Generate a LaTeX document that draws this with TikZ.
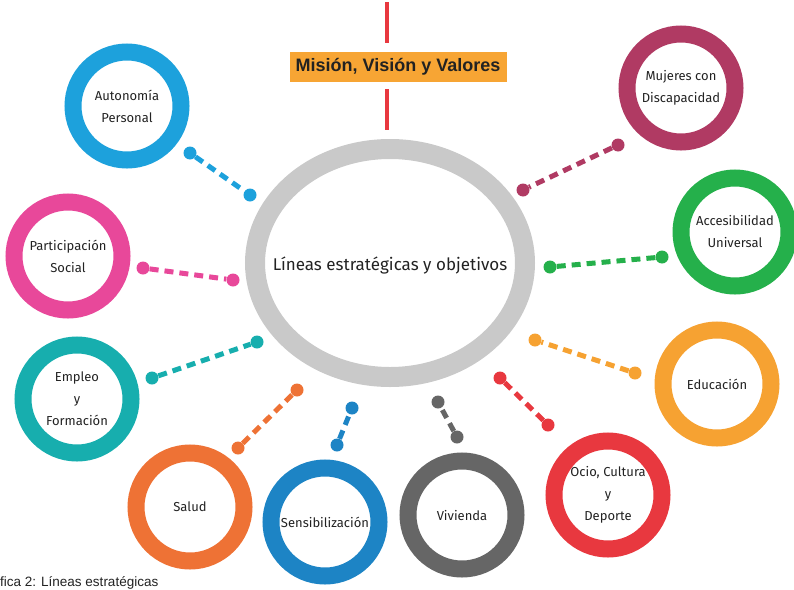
\documentclass[tikz,border=0pt]{standalone}
\usepackage{fontspec}
\setmainfont{Liberation Sans}
\newfontfamily\handfont{Fira Sans}
\usepackage{xcolor}
\usetikzlibrary{shapes.geometric}
\definecolor{cautonomia}{HTML}{1DA1DC}
\definecolor{cmujeres}{HTML}{B03A63}
\definecolor{cparticipacion}{HTML}{E8489A}
\definecolor{caccesibilidad}{HTML}{25B04B}
\definecolor{cempleo}{HTML}{17AEAE}
\definecolor{ceducacion}{HTML}{F6A232}
\definecolor{cocio}{HTML}{E8383F}
\definecolor{csalud}{HTML}{EE7235}
\definecolor{csensib}{HTML}{1D84C5}
\definecolor{cvivienda}{HTML}{666666}
\definecolor{ringgray}{HTML}{C9C9C9}
\definecolor{titleorange}{HTML}{F7A534}
\definecolor{textdark}{HTML}{222222}
\tikzstyle{ring}=[
  draw,circle,line width=17pt,minimum size=108pt,inner sep=0pt,align=center,
  text=textdark,font=\handfont\fontsize{13}{22}\selectfont
]
\tikzstyle{bigring}=[
  draw=ringgray,ellipse,line width=20pt,minimum width=270pt,minimum height=228pt,
  inner sep=0pt
]
\tikzstyle{bigtext}=[
  text=textdark,font=\handfont\fontsize{17}{20}\selectfont
]
\tikzstyle{dotnode}=[
  circle,inner sep=0pt,minimum size=13pt
]
\tikzstyle{link}=[
  line width=5pt,dash pattern=on 9pt off 6pt
]
\tikzstyle{redline}=[
  draw=cocio,line width=4pt
]

\begin{document}
\begin{tikzpicture}[x=1pt,y=-1pt]
    \useasboundingbox (0,0) rectangle (794,589);
    % centre
    \node (lineas) at (390,263) [bigring] {};
    \node (lineas-txt) at (390,265) [bigtext] {Líneas estratégicas y objetivos};
    \node (mvv) at (398,67) [fill=titleorange,minimum width=217pt,minimum height=30pt,
      text=textdark,font=\bfseries\fontsize{18}{20}\selectfont] {Misión, Visión y Valores};
    \coordinate (mvv-top) at (387,2);
    \coordinate (mvv-bot) at (387,130);
    \draw [redline,shorten >=9pt] (mvv-top) -- (mvv-top |- mvv.north);
    \draw [redline,shorten <=7pt] (mvv-top |- mvv.south) -- (mvv-bot);
    % lineas
    \node (autonomia) at (127,106) [ring,draw=cautonomia] {Autonomía\\Personal};
    \node (mujeres) at (681,88) [ring,draw=cmujeres] {Mujeres con\\Discapacidad};
    \node (participacion) at (68,256) [ring,draw=cparticipacion] {Participación\\Social};
    \node (accesibilidad) at (735,232) [ring,draw=caccesibilidad] {Accesibilidad\\Universal};
    \node (empleo) at (77,399) [ring,draw=cempleo] {Empleo\\y\\Formación};
    \node (educacion) at (717,384) [ring,draw=ceducacion] {Educación};
    \node (ocio) at (608,495) [ring,draw=cocio] {Ocio, Cultura\\y\\Deporte};
    \node (salud) at (190,507) [ring,draw=csalud] {Salud};
    \node (sensib) at (325,522) [ring,draw=csensib] {Sensibilización};
    \node (vivienda) at (462,515) [ring,draw=cvivienda] {Vivienda};
    % enlaces
    \node (autonomia-a) at (190,153) [dotnode,fill=cautonomia] {};
    \node (autonomia-b) at (250,195) [dotnode,fill=cautonomia] {};
    \draw [link,cautonomia] (autonomia-a) -- (autonomia-b);
    \node (mujeres-a) at (618,145) [dotnode,fill=cmujeres] {};
    \node (mujeres-b) at (523,190) [dotnode,fill=cmujeres] {};
    \draw [link,cmujeres] (mujeres-a) -- (mujeres-b);
    \node (participacion-a) at (143,268) [dotnode,fill=cparticipacion] {};
    \node (participacion-b) at (233,280) [dotnode,fill=cparticipacion] {};
    \draw [link,cparticipacion] (participacion-a) -- (participacion-b);
    \node (accesibilidad-a) at (662,257) [dotnode,fill=caccesibilidad] {};
    \node (accesibilidad-b) at (550,267) [dotnode,fill=caccesibilidad] {};
    \draw [link,caccesibilidad] (accesibilidad-a) -- (accesibilidad-b);
    \node (empleo-a) at (152,378) [dotnode,fill=cempleo] {};
    \node (empleo-b) at (257,342) [dotnode,fill=cempleo] {};
    \draw [link,cempleo] (empleo-a) -- (empleo-b);
    \node (educacion-a) at (635,373) [dotnode,fill=ceducacion] {};
    \node (educacion-b) at (535,340) [dotnode,fill=ceducacion] {};
    \draw [link,ceducacion] (educacion-a) -- (educacion-b);
    \node (ocio-a) at (548,425) [dotnode,fill=cocio] {};
    \node (ocio-b) at (500,378) [dotnode,fill=cocio] {};
    \draw [link,cocio] (ocio-a) -- (ocio-b);
    \node (salud-a) at (238,448) [dotnode,fill=csalud] {};
    \node (salud-b) at (297,390) [dotnode,fill=csalud] {};
    \draw [link,csalud] (salud-a) -- (salud-b);
    \node (sensib-a) at (337,445) [dotnode,fill=csensib] {};
    \node (sensib-b) at (352,408) [dotnode,fill=csensib] {};
    \draw [link,csensib] (sensib-a) -- (sensib-b);
    \node (vivienda-a) at (457,437) [dotnode,fill=cvivienda] {};
    \node (vivienda-b) at (438,402) [dotnode,fill=cvivienda] {};
    \draw [link,cvivienda] (vivienda-a) -- (vivienda-b);
    % pie
    \node (pie) at (0,586) [anchor=base west,inner sep=0pt,text=textdark,
      font=\fontsize{13.5}{16}\selectfont] {fica 2: Líneas estratégicas};
\end{tikzpicture}
\end{document}
